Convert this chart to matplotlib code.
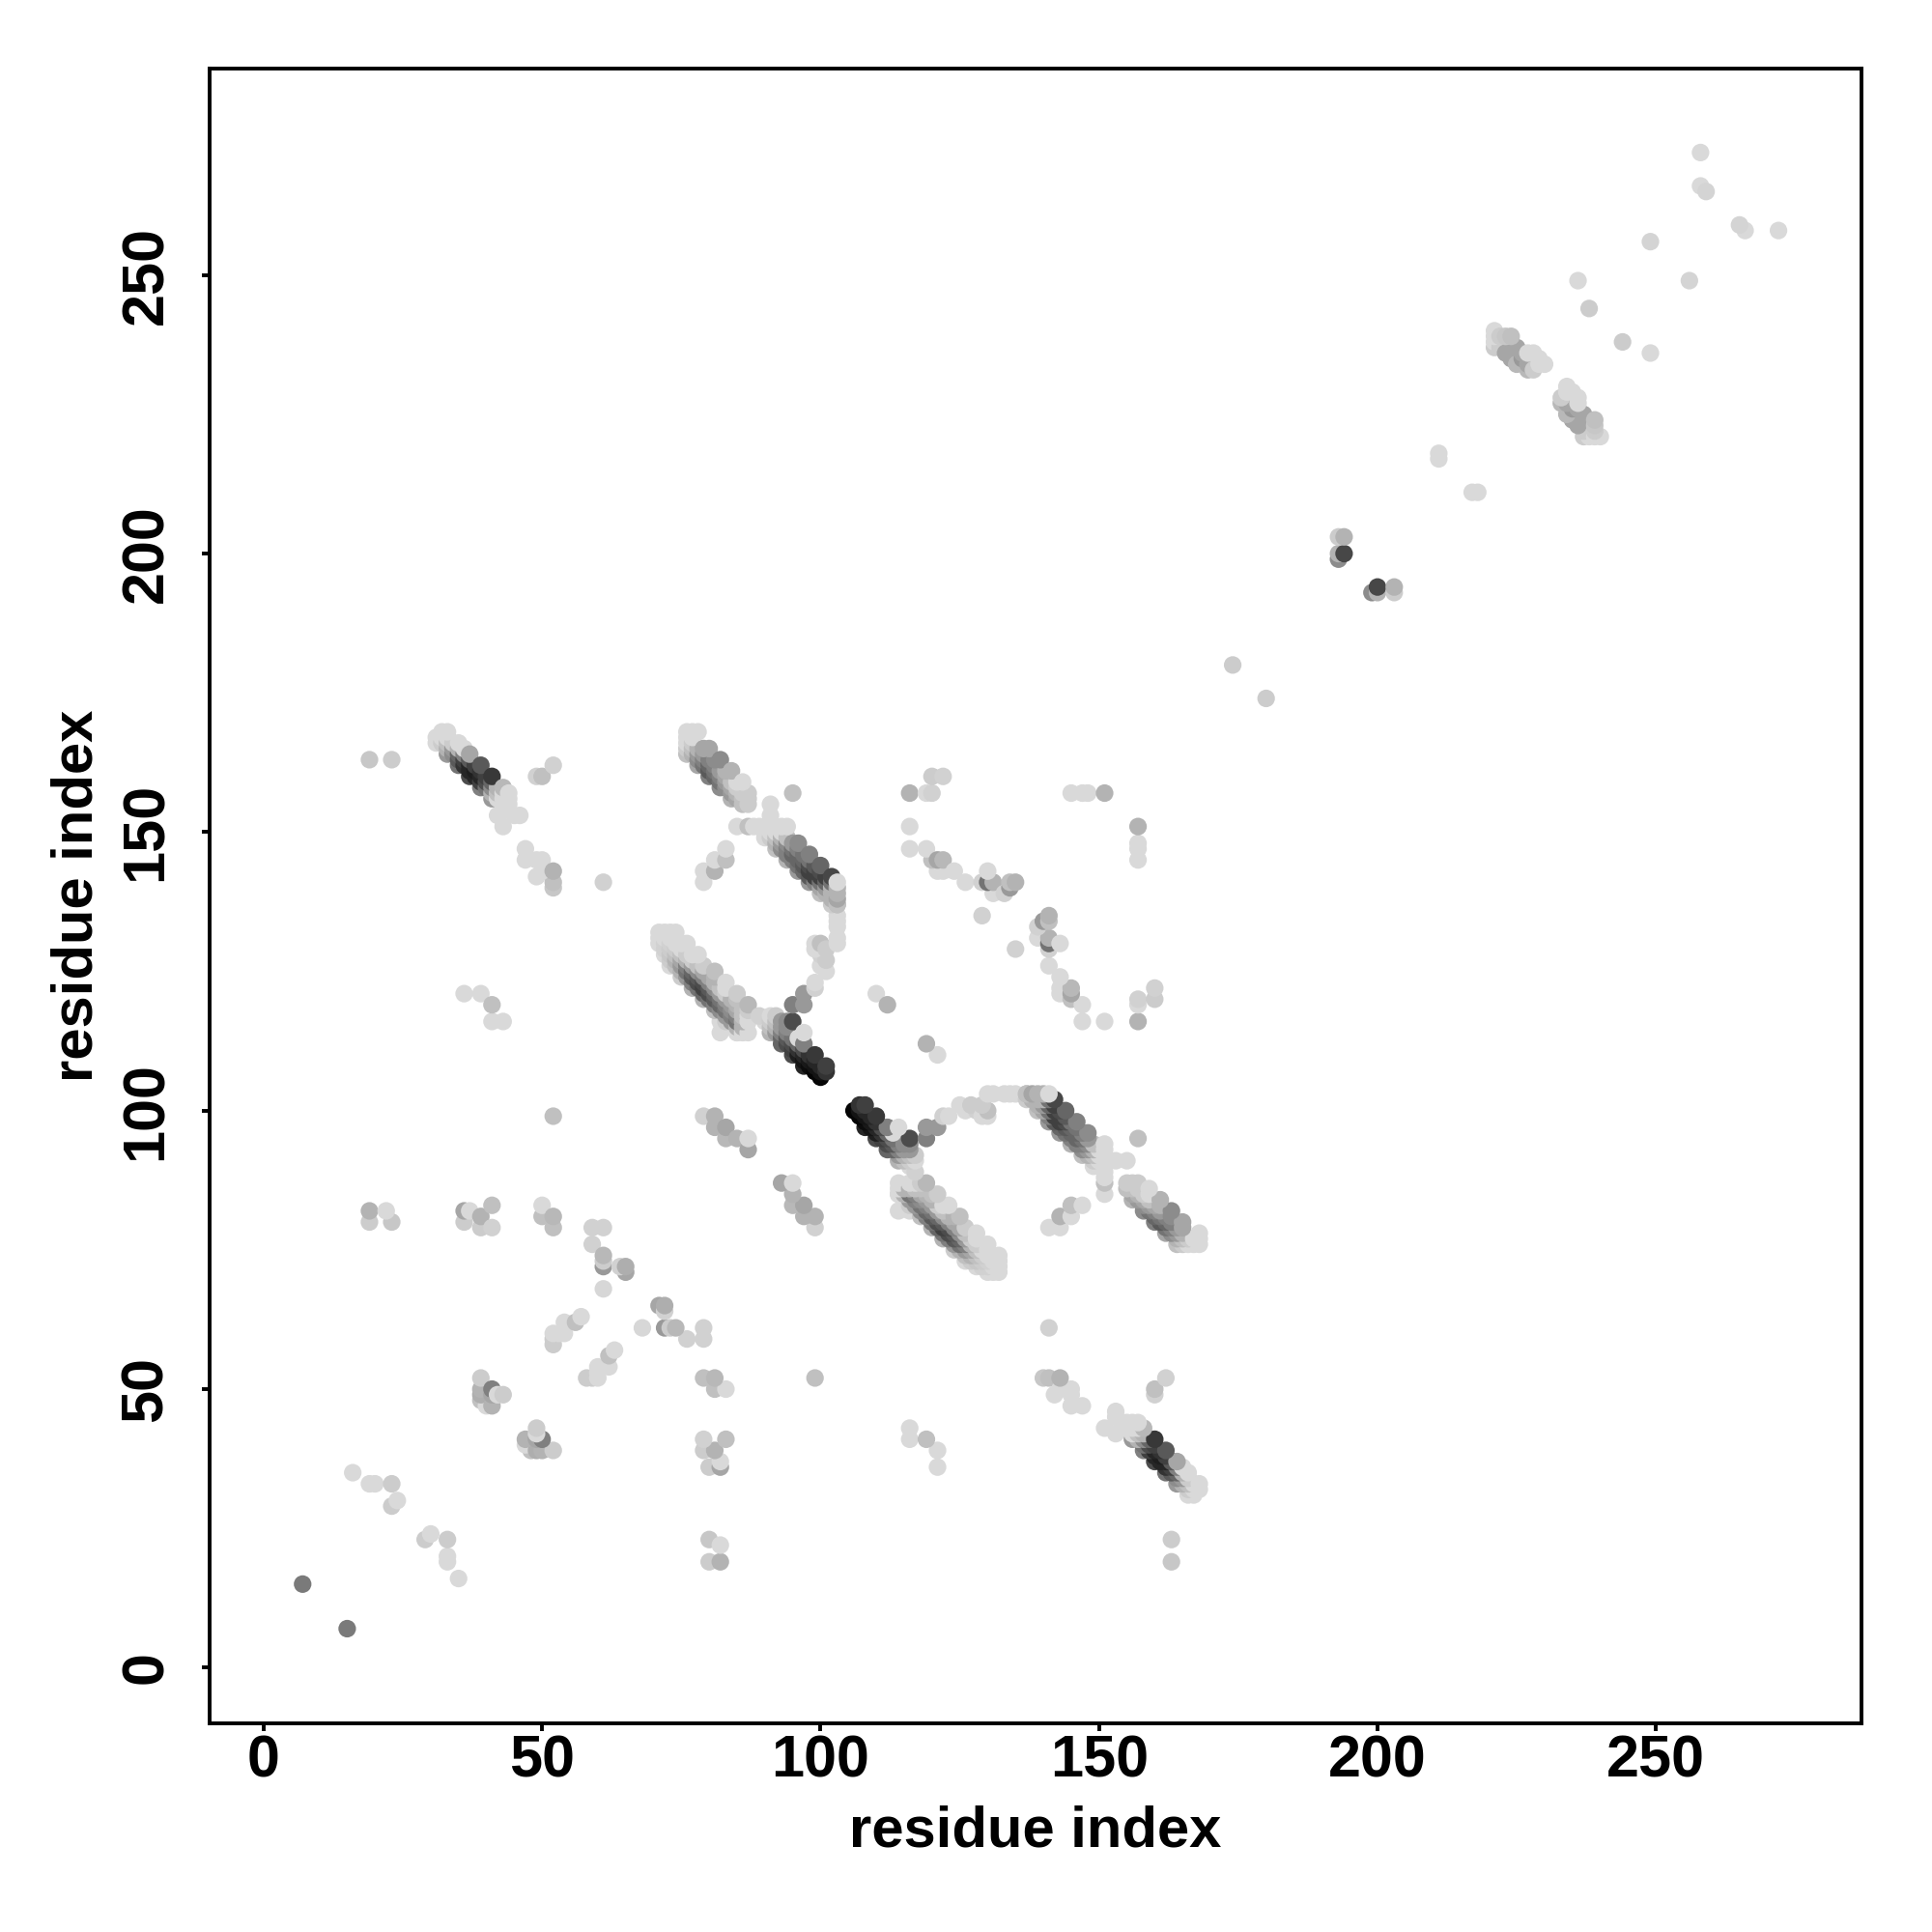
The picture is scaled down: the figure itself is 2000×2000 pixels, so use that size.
import numpy as np
import matplotlib
matplotlib.use("Agg")
import matplotlib.pyplot as plt

plt.rcParams['font.family'] = ['Liberation Sans', 'DejaVu Sans']

# contacts as (i, j, grey), i < j. the map is symmetric so each one is drawn twice
scattered_low = [
    (7,15,.48),(16,35,.85),(19,33,.85),(20,33,.85),(23,33,.8),(23,29,.8),(24,30,.85),
    (19,82,.7),(19,80,.8),(22,82,.85),(23,80,.78),(36,82,.65),(36,80,.8),(37,82,.85),
    (39,81,.7),(39,79,.8),(41,83,.75),(41,79,.82),(50,83,.85),(50,81,.75),(52,81,.72),
    (52,79,.75),(59,79,.82),(61,79,.82),(59,76,.82),(61,74,.72),(61,73,.8),(61,72,.6),
    (65,72,.68),(65,71,.65),(64,72,.82),(61,68,.84),(52,58,.8),(52,60,.85),(54,62,.85),
    (57,63,.85),(56,62,.75),(53,60,.85),(52,59,.8),(54,60,.85),(52,99,.75),
    (39,52,.8),(39,50,.7),(39,49,.68),(39,48,.75),(41,50,.5),(41,49,.65),(41,47,.7),
    (40,47,.85),(42,49,.85),(43,49,.8),(36,121,.85),(39,121,.85),(41,119,.75),
    (41,116,.85),(43,116,.85),(79,99,.82),(81,99,.7),(81,97,.7),(83,97,.65),(83,95,.72),
    (85,95,.7),(87,95,.85),(87,93,.65),
]
scattered_mid = [
    (19,163,.78),(23,163,.8),(52,162,.82),(50,160,.75),(49,160,.82),(47,147,.85),(47,145,.85),
    (49,145,.85),(50,145,.85),(49,142,.85),(52,143,.7),(52,141,.75),(50,143,.85),(52,140,.78),
    (61,141,.82),(43,151,.85),(46,153,.85),(45,153,.85),(42,153,.85),
    (95,157,.75),(91,155,.85),(91,153,.85),(85,151,.85),(87,151,.75),(88,151,.85),
    (83,147,.85),(81,145,.85),(83,145,.75),(79,143,.85),(81,143,.7),(79,141,.85),
    (103,135,.85),(103,134,.85),(103,131,.85),(103,130,.85),(99,130,.85),(100,130,.75),
    (100,128,.82),(100,126,.85),(99,123,.85),(99,122,.82),(97,121,.6),(97,119,.6),(95,119,.5),
    (110,121,.85),(112,119,.7),(101,125,.85),(101,127,.8),(99,129,.85),(101,129,.8),
    (103,133,.85),(103,137,.75),
]
scattered_high = [
    (116,157,.7),(119,157,.85),(120,157,.82),(120,160,.8),(122,160,.82),(116,151,.85),
    (116,147,.85),(119,147,.85),(120,145,.75),(121,145,.65),(121,143,.85),(122,143,.85),
    (122,145,.72),(124,143,.85),(126,141,.85),(130,143,.85),(130,141,.45),(131,141,.7),
    (129,141,.82),(131,139,.85),(133,139,.82),(129,135,.82),(134,141,.75),(134,140,.6),
    (135,141,.7),(145,157,.85),(147,157,.85),(148,157,.85),(151,157,.7),
    (174,180,.8),(193,199,.55),(193,200,.7),(194,200,.28),(193,203,.8),(194,203,.7),
    (211,217,.85),(211,218,.85),(236,249,.85),(238,244,.8),(249,256,.83),
    (258,266,.85),(259,265,.83),(258,272,.85),
]
cluster_230 = [
    (221,240,.85),(221,239,.85),(221,238,.85),(222,239,.8),(223,239,.78),(224,239,.75),
    (222,237,.8),(223,236,.65),(224,235,.65),(225,237,.65),(226,236,.65),
    (225,234,.72),(226,235,.6),(227,233,.72),(227,234,.65),(228,233,.8),
    (229,234,.85),(230,234,.85),(227,236,.85),(228,236,.85),(229,235,.85),(221,237,.8),
]
# antiparallel strand pairs, one line per i+j
band_a = [
    (31,166,.85),(33,164,.6),(35,162,.45),(37,160,.3),(39,158,.5),(41,156,.6),(43,154,.85),
    (31,167,.85),(32,166,.8),(33,165,.7),(34,164,.55),(35,163,.35),(36,162,.2),(37,161,.15),(38,160,.15),(39,159,.25),(40,158,.45),(41,157,.7),(42,156,.85),(43,155,.85),
    (32,167,.85),(33,166,.75),(34,165,.6),(35,164,.4),(36,163,.25),(37,162,.15),(38,161,.12),(39,160,.15),(40,159,.3),(41,158,.55),(42,157,.75),(43,156,.85),(44,155,.85),
    (32,168,.85),(33,167,.85),(34,166,.8),(35,165,.7),(36,164,.5),(37,163,.35),(38,162,.25),(39,161,.2),(40,160,.25),(41,159,.4),(42,158,.7),(43,157,.85),(44,156,.85),
    (33,168,.85),(35,166,.85),(36,165,.85),(37,164,.65),(39,162,.35),(41,160,.22),(43,158,.72),(44,157,.85),
]
band_b = [
    (76,164,.75),(78,162,.65),(80,160,.5),(82,158,.55),(84,156,.7),
    (76,165,.8),(77,164,.7),(78,163,.55),(79,162,.45),(80,161,.35),(81,160,.4),(82,159,.45),(83,158,.55),(84,157,.6),(85,156,.65),(86,155,.75),
    (76,166,.85),(77,165,.75),(78,164,.6),(79,163,.5),(80,162,.4),(81,161,.45),(82,160,.5),(83,159,.6),(84,158,.65),(85,157,.7),(86,156,.75),(87,155,.8),
    (76,167,.85),(77,166,.8),(78,165,.7),(79,164,.6),(80,163,.5),(81,162,.5),(82,161,.6),(83,160,.65),(84,159,.75),(85,158,.8),(86,157,.8),(87,156,.8),
    (76,168,.85),(77,167,.85),(79,165,.65),(81,163,.55),(83,161,.7),(85,159,.85),(87,157,.8),
    (77,168,.85),(78,168,.85),(80,165,.65),(82,163,.55),(84,161,.7),(86,159,.85),
]
band_c = [
    (90,149,.85),(92,147,.75),(94,145,.7),(96,143,.6),(98,141,.6),(100,139,.75),(102,137,.8),
    (89,151,.85),(90,150,.85),(91,149,.8),(92,148,.7),(93,147,.55),(94,146,.5),(95,145,.5),(96,144,.45),(97,143,.4),(98,142,.35),(99,141,.5),(100,140,.65),(101,139,.7),(102,138,.7),(103,137,.75),
    (90,151,.85),(91,150,.85),(92,149,.75),(93,148,.6),(94,147,.5),(95,146,.4),(96,145,.4),(97,144,.35),(98,143,.25),(99,142,.25),(100,141,.45),(101,140,.6),(102,139,.7),(103,138,.65),
    (91,151,.85),(92,150,.85),(93,149,.7),(94,148,.55),(95,147,.45),(96,146,.4),(97,145,.4),(98,144,.3),(99,143,.25),(100,142,.25),(101,141,.4),(102,140,.7),(103,139,.7),
    (92,151,.85),(93,150,.85),(94,149,.75),(95,148,.6),(96,147,.5),(97,146,.45),(98,145,.45),(99,144,.35),(100,143,.3),(101,142,.25),(102,141,.45),(103,140,.7),
    (93,151,.85),(94,151,.85),(96,148,.55),(98,146,.5),(100,144,.4),(102,142,.28),(103,141,.85),
]
band_d = [
    (73,126,.85),(75,124,.8),(77,122,.7),(79,120,.7),(81,118,.75),(83,116,.8),(85,114,.85),
    (72,128,.85),(73,127,.8),(74,126,.75),(75,125,.7),(76,124,.6),(77,123,.5),(78,122,.45),(79,121,.4),(80,120,.45),(81,119,.5),(82,118,.55),(83,117,.6),(84,116,.6),(85,115,.7),(86,114,.85),
    (71,130,.85),(72,129,.82),(73,128,.78),(74,127,.7),(75,126,.6),(76,125,.45),(77,124,.35),(78,123,.3),(79,122,.25),(80,121,.3),(81,120,.35),(82,119,.4),(83,118,.45),(84,117,.5),(85,116,.45),(86,115,.7),
    (71,131,.85),(72,130,.82),(73,129,.8),(74,128,.75),(75,127,.65),(76,126,.5),(77,125,.4),(78,124,.35),(79,123,.3),(80,122,.35),(81,121,.4),(82,120,.45),(83,119,.5),(84,118,.55),(85,117,.5),(86,116,.7),
    (71,132,.85),(72,131,.85),(73,130,.82),(74,129,.8),(75,128,.75),(76,127,.7),(77,126,.6),(78,125,.55),(79,124,.5),(80,123,.5),(81,122,.55),(82,121,.6),(83,120,.6),(84,119,.6),(85,118,.65),(86,117,.75),(87,116,.85),
    (72,132,.85),(73,131,.85),(74,130,.85),(75,129,.85),(76,128,.8),(77,127,.8),(78,126,.75),(79,125,.65),(80,124,.65),(81,123,.7),(82,122,.75),(83,121,.8),(84,120,.7),(85,119,.7),(86,118,.75),(87,117,.85),
    (73,132,.85),(75,130,.85),(77,128,.85),(79,126,.8),(81,124,.7),(83,122,.85),(85,120,.75),(87,118,.8),
    (74,132,.85),(76,130,.85),(78,128,.85),(81,125,.75),(83,123,.85),(85,121,.8),(87,119,.72),
    (82,116,.85),(82,114,.85),(85,114,.85),(87,114,.85),
]
band_e = [
    (91,114,.7),(93,112,.4),(95,110,.3),(97,108,.15),
    (90,116,.85),(91,115,.75),(92,114,.6),(93,113,.4),(94,112,.3),(95,111,.25),(96,110,.12),(97,109,.08),(98,108,.05),(99,107,.02),(100,106,.02),
    (91,116,.8),(92,115,.7),(93,114,.5),(94,113,.35),(95,112,.3),(96,111,.2),(97,110,.15),(98,109,.1),(99,108,.08),(100,107,.08),
    (91,117,.85),(92,116,.75),(93,115,.6),(94,114,.5),(95,113,.45),(96,112,.4),(97,111,.3),(98,110,.2),(99,109,.15),(100,108,.15),(101,107,.2),
    (92,117,.8),(93,116,.6),(94,115,.55),(96,113,.85),(97,112,.5),(99,110,.22),(101,108,.25),
    (95,116,.3),(94,116,.55),(97,114,.85),(89,117,.82),
]

x_ticks = [0, 50, 100, 150, 200, 250]
y_ticks = [0, 50, 100, 150, 200, 250]
axis_label = "residue index"

contacts = np.array(scattered_low + scattered_mid + scattered_high + cluster_230
                    + band_a + band_b + band_c + band_d + band_e)
xs = np.concatenate([contacts[:, 0], contacts[:, 1]])
ys = np.concatenate([contacts[:, 1], contacts[:, 0]])
greys = np.concatenate([contacts[:, 2], contacts[:, 2]])

# later points sit on the upper right side of each stripe
order = np.argsort(xs + ys, kind="stable")

fig = plt.figure(figsize=(20, 20), dpi=100)
ax = fig.add_axes([217/2000, 216/2000, 1710/2000, 1712.6/2000])
ax.scatter(xs[order], ys[order], c=greys[order], cmap="gray", vmin=0, vmax=1,
           s=172, linewidths=0)

ax.set_xlim(-9.7, 286.9)
ax.set_ylim(-10, 287)
ax.set_xticks(x_ticks)
ax.set_yticks(y_ticks)
ax.tick_params(length=6, width=2.8, labelsize=44)
ax.tick_params(axis="x", pad=2.5)
ax.tick_params(axis="y", pad=20)
for lab in ax.get_xticklabels():
    lab.set_fontweight("bold")
for lab in ax.get_yticklabels():
    lab.set_fontweight("bold")
    lab.set_rotation(90)
    lab.set_va("center")
for spine in ax.spines.values():
    spine.set_linewidth(2.8)

ax.set_xlabel(axis_label, fontsize=43, fontweight="bold", labelpad=11)
ax.set_ylabel(axis_label, fontsize=43, fontweight="bold", labelpad=12)

fig.savefig("out.png", dpi=100, facecolor="white")
